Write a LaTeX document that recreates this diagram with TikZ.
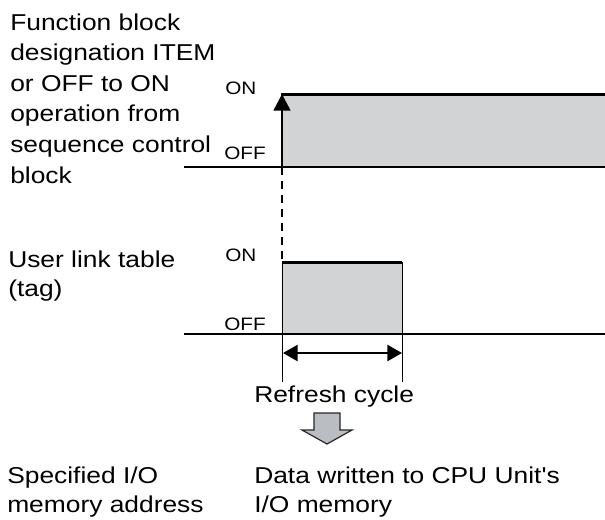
\documentclass[tikz,border=0pt]{standalone}
\usepackage{fontspec}
\newfontfamily\chartfont{Liberation Sans}[FakeStretch=1.15]
\usetikzlibrary{arrows.meta}
\definecolor{sigfill}{HTML}{D1D3D4}
\definecolor{arrowfill}{HTML}{BABDC2}

\begin{document}
\begin{tikzpicture}[
  x=0.75pt, y=-0.75pt,
  txt/.style={font=\chartfont\fontsize{17.2}{21.5}\selectfont, align=left, inner sep=0pt, anchor=base west},
  lvl/.style={font=\chartfont\fontsize{13.5}{16}\selectfont, inner sep=0pt, anchor=base west},
  axis/.style={draw=black, line width=0.9pt},
  level/.style={draw=black, line width=2.25pt},
  edge/.style={draw=black, line width=0.6pt},
  high/.style={fill=sigfill},
  rise/.style={-{Triangle[length=12.5pt,width=12.5pt]}, line width=1.9pt},
  span/.style={{Triangle[length=11pt,width=12pt]}-{Triangle[length=11pt,width=12pt]}, line width=1.9pt},
  link/.style={draw=black, line width=1.9pt, dash pattern=on 6pt off 4.5pt},
  blockarrow/.style={draw=black!85, fill=arrowfill, line width=0.9pt, line join=miter}
]
\useasboundingbox (0,0) rectangle (605,519);

\def\xOn{282}
\def\xOff{402}
\def\xEnd{605}
\def\xAxis{184}
\def\topHi{94}
\def\topLo{167}
\def\botHi{262}
\def\botLo{334}
\def\spanY{353}

% Function block designation signal.
\fill[high] (\xOn,\topHi) rectangle (\xEnd,\topLo);
\draw[axis] (\xAxis,\topLo) -- (\xEnd,\topLo);
\draw[level] (\xOn-1,\topHi) -- (\xEnd,\topHi);
\coordinate (riseFoot) at (\xOn,\topLo);
\coordinate (riseTop) at (\xOn,\topHi);
\draw[rise] (riseFoot) -- (riseTop);

% User link table pulse.
\fill[high] (\xOn,\botHi) rectangle (\xOff,\botLo);
\draw[axis] (\xAxis,\botLo) -- (\xEnd,\botLo);
\coordinate (pulseTop) at (\xOn,\botHi);
\draw[link] (riseFoot) -- (pulseTop);
\draw[level] (\xOn,\botHi) -- (\xOff,\botHi);
\draw[edge] (\xOn,\botHi) -- (\xOn,382);
\draw[edge] (\xOff,\botHi) -- (\xOff,382);

% Refresh cycle span.
\coordinate (spanL) at (\xOn+1,\spanY);
\coordinate (spanR) at (\xOff,\spanY);
\draw[span] (spanL) -- (spanR);
\node[txt] (refresh) at (254,402) {Refresh cycle};

% Transfer arrow.
\draw[blockarrow] (314,413) -- (340,413) -- (340,430) -- (352,430)
  -- (327,444) -- (302,430) -- (314,430) -- cycle;

% Level labels.
\node[lvl] (onA) at (225,94) {ON};
\node[lvl] (offA) at (224,159) {OFF};
\node[lvl] (onB) at (225,261) {ON};
\node[lvl] (offB) at (224,330) {OFF};

% Text labels (anchored on the last line).
\node[txt, font=\chartfont\fontsize{17.2}{22.9}\selectfont] (fbLabel) at (10,183)
  {Function block\\designation ITEM\\or OFF to ON\\operation from\\sequence control\\block};
\node[txt] (tagLabel) at (8,296) {User link table\\(tag)};
\node[txt] (ioLabel) at (7,512) {Specified I/O\\memory address};
\node[txt] (cpuLabel) at (254,512) {Data written to CPU Unit's\\I/O memory};

\end{tikzpicture}
\end{document}
